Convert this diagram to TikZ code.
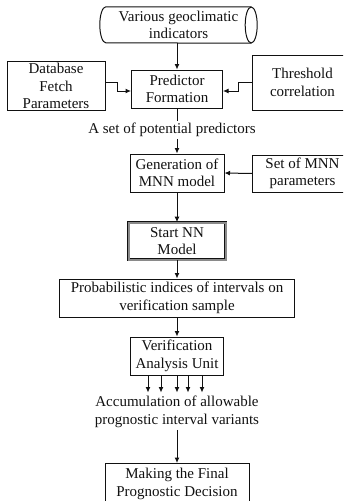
\documentclass[tikz,border=0pt]{standalone}
\usepackage{fontspec}
\setmainfont{Liberation Serif}
\usetikzlibrary{
  arrows.meta
}
\definecolor{ink}{HTML}{111111}
\definecolor{bandgray}{HTML}{8A8A8A}
\tikzset{
  font=\fontsize{15}{17.5}\selectfont,
  block/.style={
    draw=ink,
    line width=1pt,
    fill=white,
    align=center,
    text=ink,
    inner sep=2pt
  },
  startblock/.style={
    block,
    line width=0.7pt,
    double=bandgray,
    double distance=2pt
  },
  source/.style={
    align=center,
    text=ink,
    inner sep=1pt,
    minimum width=145pt,
    minimum height=36pt
  },
  outline/.style={draw=ink, line width=1pt},
  caption/.style={align=center, text=ink, inner sep=2pt},
  flow/.style={-{Latex[length=5.5pt,width=5pt]}, draw=ink, line width=1pt},
  link/.style={draw=ink, line width=1pt}
}
\begin{document}
\begin{tikzpicture}[x=1pt,y=1pt]
  \useasboundingbox (0,0) rectangle (343,-501);
  \clip (0,0) rectangle (343,-501);

  % Inputs
  \node[source] (geo) at (178.5,-25) {
    Various geoclimatic\\indicators
  };
  % drum outline round the source node
  \draw[outline] (geo.north east) -- (geo.north west)
    arc[start angle=90, end angle=270, x radius=6pt, y radius=18pt] -- (geo.south east);
  \draw[outline] (geo.east) ellipse [x radius=6pt, y radius=18pt];

  \node[block, minimum width=98pt, minimum height=48pt] (dbfetch) at (56,-86) {
    Database\\Fetch\\Parameters
  };
  \node[block, minimum width=100pt, minimum height=55pt, anchor=west] (thresh) at (252,-82.5) {
    Threshold\\correlation
  };
  \node[block, minimum width=91pt, minimum height=38pt] (pred) at (177,-89) {
    Predictor\\Formation
  };
  \node[caption] (predset) at (172,-130) {A set of potential predictors};

  % Model
  \node[block, minimum width=94pt, minimum height=38pt] (gen) at (177,-173) {
    Generation of\\MNN model
  };
  \node[block, minimum width=100pt, minimum height=37pt, anchor=west] (mnnpar) at (252,-173.5) {
    Set of MNN\\parameters
  };
  \node[startblock, minimum width=97pt, minimum height=37pt] (startnn) at (177,-241) {
    Start NN\\Model
  };
  \node[block, minimum width=235pt, minimum height=38pt] (prob) at (177,-298) {
    Probabilistic indices of intervals on\\verification sample
  };

  % Verification and decision
  \node[block, minimum width=93pt, minimum height=38pt] (verif) at (177,-356) {
    Verification\\Analysis Unit
  };
  \node[caption] (accum) at (177,-412) {
    Accumulation of allowable\\prognostic interval variants
  };
  \node[block, minimum width=144pt, minimum height=41pt, anchor=north] (final) at (177,-463) {
    Making the Final\\Prognostic Decision
  };

  % Connectors
  \draw[flow] (geo.south -| pred.north) -- (pred.north);
  \draw[flow] ([yshift=4pt]dbfetch.east) -- ++(12pt,0) |- ([yshift=-2pt]pred.west);
  \draw[flow] (thresh.west) -- ++(-14pt,0) |- ([yshift=-2pt]pred.east);
  \draw[link] (pred.south) -- (pred.south |- predset.north);
  \draw[flow] (pred.south |- predset.south) -- (gen.north);
  \draw[flow] (mnnpar.west) -- (gen.east);
  \draw[flow] (gen.south) -- (startnn.north);
  \draw[flow] (startnn.south) -- (prob.north);
  \draw[flow] (prob.south) -- (verif.north);
  \foreach \dx in {-29,-16,0,11,25}
    \draw[flow] ([xshift=\dx pt]verif.south) -- ++(0,-17pt);
  \draw[flow] (accum.south) -- (final.north);
\end{tikzpicture}
\end{document}
